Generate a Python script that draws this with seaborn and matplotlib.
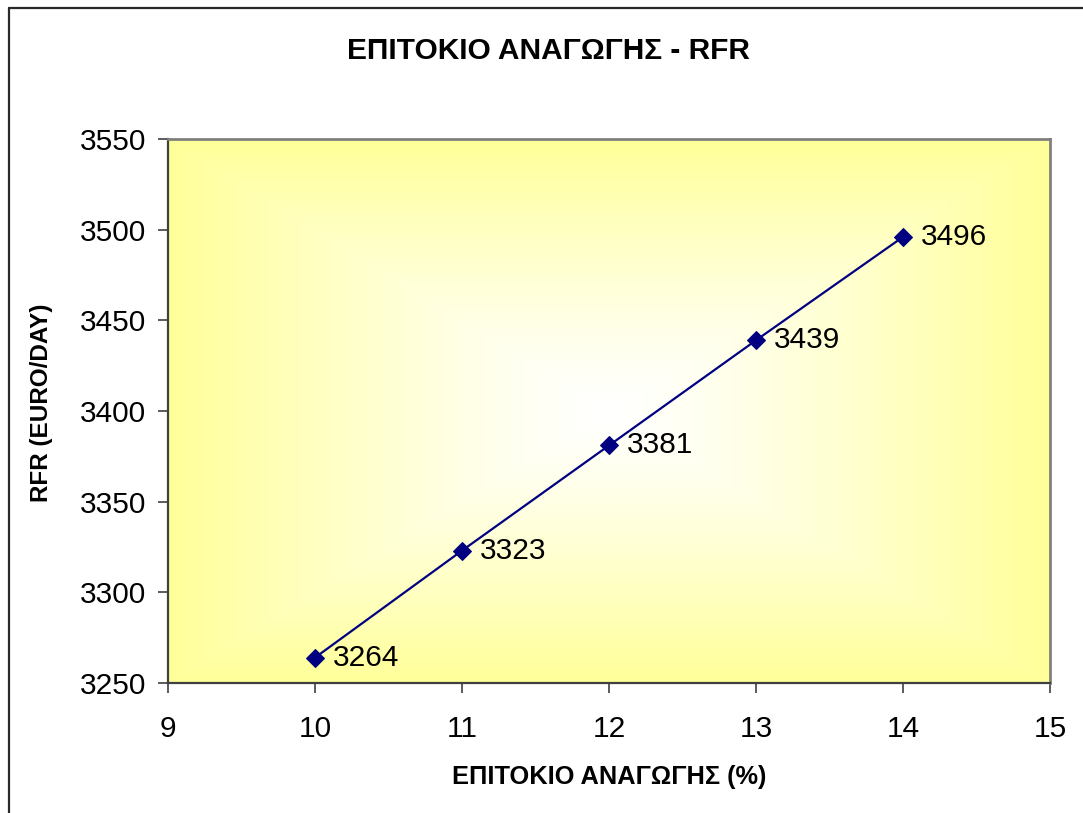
import numpy as np
import matplotlib
matplotlib.use("Agg")
import matplotlib.pyplot as plt
from matplotlib.lines import Line2D
import seaborn as sns
import pandas as pd

# Discount rate (%) vs required freight rate (EURO/DAY)
rates = [10, 11, 12, 13, 14]
rfr = [3264, 3323, 3381, 3439, 3496]
x_ticks = [9, 10, 11, 12, 13, 14, 15]
y_ticks = [3250, 3300, 3350, 3400, 3450, 3500, 3550]

title = "ΕΠΙΤΟΚΙΟ ΑΝΑΓΩΓΗΣ - RFR"
x_label = "ΕΠΙΤΟΚΙΟ ΑΝΑΓΩΓΗΣ (%)"
y_label = "RFR (EURO/DAY)"

sns.set_theme(style="white")
plt.rcParams["font.family"] = ["Liberation Sans", "DejaVu Sans"]
plt.rcParams["text.color"] = "black"
plt.rcParams["axes.labelcolor"] = "black"

W, H = 1083, 813
fig = plt.figure(figsize=(W / 100, H / 100), dpi=100)
fig.patch.set_facecolor("white")

# chart-area frame (open towards the right and bottom edges)
fx = 8.5 / W
fy = 1 - 8.5 / H
fig.add_artist(Line2D([fx, fx], [fy, -0.05], transform=fig.transFigure,
                      color="#2a2a2a", lw=1.6))
fig.add_artist(Line2D([fx, 1.05], [fy, fy], transform=fig.transFigure,
                      color="#2a2a2a", lw=1.6))

left, right = 168 / W, 1050 / W
bottom, top = 1 - 683 / H, 1 - 139 / H
ax = fig.add_axes([left, bottom, right - left, top - bottom])

xmin, xmax = x_ticks[0], x_ticks[-1]
ymin, ymax = y_ticks[0], y_ticks[-1]

# white-to-yellow gradient from the centre of the plot area
n = 400
u = np.linspace(-1, 1, n)
U, V = np.meshgrid(u, u)
t = np.maximum(np.abs(U), np.abs(V))
t = np.clip(t, 0, 1) ** 1.25
white = np.array([1.0, 1.0, 1.0])
yellow = np.array([1.0, 1.0, 0.6])
img = white[None, None, :] * (1 - t[..., None]) + yellow[None, None, :] * t[..., None]
ax.imshow(img, extent=[xmin, xmax, ymin, ymax], aspect="auto", zorder=0,
          interpolation="bilinear", origin="lower")

df = pd.DataFrame({"rate": rates, "rfr": rfr})
sns.lineplot(data=df, x="rate", y="rfr", ax=ax, color="#000080", lw=1.6,
             marker="D", markersize=9.5, markeredgecolor="#000080",
             markerfacecolor="#000080", zorder=3)

for xv, yv in zip(rates, rfr):
    ax.annotate(f"{yv}", (xv, yv), xytext=(13, 0), textcoords="offset points",
                ha="left", va="center", fontsize=21.5, color="black", zorder=4)

ax.set_xlim(xmin, xmax)
ax.set_ylim(ymin, ymax)
ax.set_xticks(x_ticks)
ax.set_yticks(y_ticks)
ax.tick_params(axis="both", direction="out", length=7, width=1.2, color="#404040",
               labelsize=21.5, labelcolor="black")
ax.tick_params(axis="y", pad=9, left=True)
ax.tick_params(axis="x", pad=16, bottom=True)

for side in ["top", "right"]:
    ax.spines[side].set_color("#808080")
    ax.spines[side].set_linewidth(2)
for side in ["left", "bottom"]:
    ax.spines[side].set_color("#404040")
    ax.spines[side].set_linewidth(1.6)
for s in ax.spines.values():
    s.set_visible(True)

ax.set_xlabel(x_label, fontsize=18.3, fontweight="bold", labelpad=16)
ax.set_ylabel(y_label, fontsize=17.5, fontweight="bold", va="center")
ax.yaxis.set_label_coords((42 - 168) / 882, (683 - 403) / 544)
ax.grid(False)

fig.text(548 / W, 1 - 51 / H, title, ha="center", va="center",
         fontsize=21.5, fontweight="bold")

fig.savefig("out.png", dpi=100)
